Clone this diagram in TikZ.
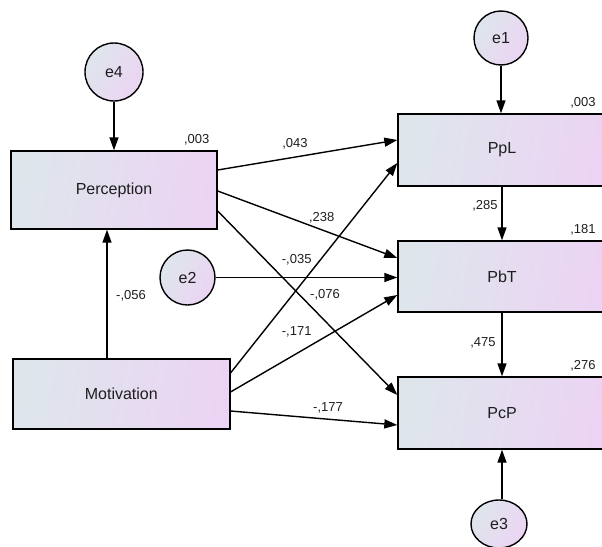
\documentclass[tikz,border=0pt]{standalone}
\usepackage{fontspec}
\setmainfont{Liberation Sans}
\usetikzlibrary{arrows.meta,shapes.geometric}
\definecolor{gl}{RGB}{222,230,236}
\definecolor{gr}{RGB}{235,212,243}
\definecolor{txt}{RGB}{30,30,30}
\begin{document}
\begin{tikzpicture}[x=1pt,y=-1pt,
  var/.style={draw=black, line width=1.4pt, left color=gl, right color=gr, shading angle=80,
    inner sep=0pt, font=\fontsize{16}{19}\selectfont, text=txt},
  err/.style={draw=black, line width=1.4pt, circle, left color=gl, right color=gr, shading angle=60,
    inner sep=0pt, minimum size=56pt, font=\fontsize{16}{19}\selectfont, text=txt},
  lab/.style={font=\fontsize{13}{15}\selectfont, text=txt, inner sep=0pt},
  arr/.style={line width=1.4pt, -{Triangle[length=13pt,width=9pt]}}]
\clip (0,0) rectangle (602,546);
\useasboundingbox (0,0) rectangle (602,546);
% observed variables
\node[var, minimum width=206pt, minimum height=78pt] (perc) at (114,190) {Perception};
\node[var, minimum width=217pt, minimum height=70pt] (mot) at (121.3,394) {Motivation};
\node[var, minimum width=208pt, minimum height=72pt] (ppl) at (502,150) {PpL};
\node[var, minimum width=208pt, minimum height=71pt] (pbt) at (502,276.5) {PbT};
\node[var, minimum width=208pt, minimum height=72pt] (pcp) at (502,413) {PcP};
% error terms
\node[err, minimum size=58pt] (e4) at (114,72) {e4};
\node[err, minimum size=54pt] (e1) at (501,38) {e1};
\node[err, minimum size=55pt] (e2) at (187.5,277.5) {e2};
\node[err, ellipse, minimum width=56pt, minimum height=48pt] (e3) at (499,524) {e3};
% connectors
\draw[arr] (e4) -- (perc);
\draw[arr] (e1.south) -- (e1.south |- ppl.north);
\draw[arr] (ppl) -- (pbt);
\draw[arr] (pbt) -- (pcp);
\draw[arr] (e3.north -| pcp.south) -- (pcp.south);
\draw[arr] ([xshift=-14.3pt]mot.north) -- ([xshift=-7pt]perc.south);
\draw[arr] ([yshift=20pt]perc.east) -- ([yshift=10pt]ppl.west);
\draw[arr] ([yshift=-1pt]perc.east) -- ([yshift=18.5pt]pbt.west);
\draw[arr] ([yshift=-21pt]perc.east) -- ([yshift=18pt]pcp.west);
\draw[arr] ([yshift=21pt]mot.east) -- ([yshift=-13pt]ppl.west);
\draw[arr] ([yshift=2pt]mot.east) -- ([yshift=-18.5pt]pbt.west);
\draw[arr] ([yshift=-17pt]mot.east) -- ([yshift=-12pt]pcp.west);
\draw[arr] (e2) -- (e2 -| pbt.west);
% labels
\node[lab] (l1) at (196.7,140) {,003};
\node[lab] (l2) at (583,103) {,003};
\node[lab] (l3) at (583,230) {,181};
\node[lab] (l4) at (583,366) {,276};
\node[lab] (l5) at (485,206) {,285};
\node[lab] (l6) at (483,343) {,475};
\node[lab] (l7) at (131,296) {-,056};
\node[lab] (l8) at (295,143.5) {,043};
\node[lab] (l9) at (321.7,217.5) {,238};
\node[lab] (l10) at (296.7,260) {-,035};
\node[lab] (l11) at (325,295) {-,076};
\node[lab] (l12) at (296.7,331.5) {-,171};
\node[lab] (l13) at (328,408) {-,177};
\end{tikzpicture}
\end{document}
